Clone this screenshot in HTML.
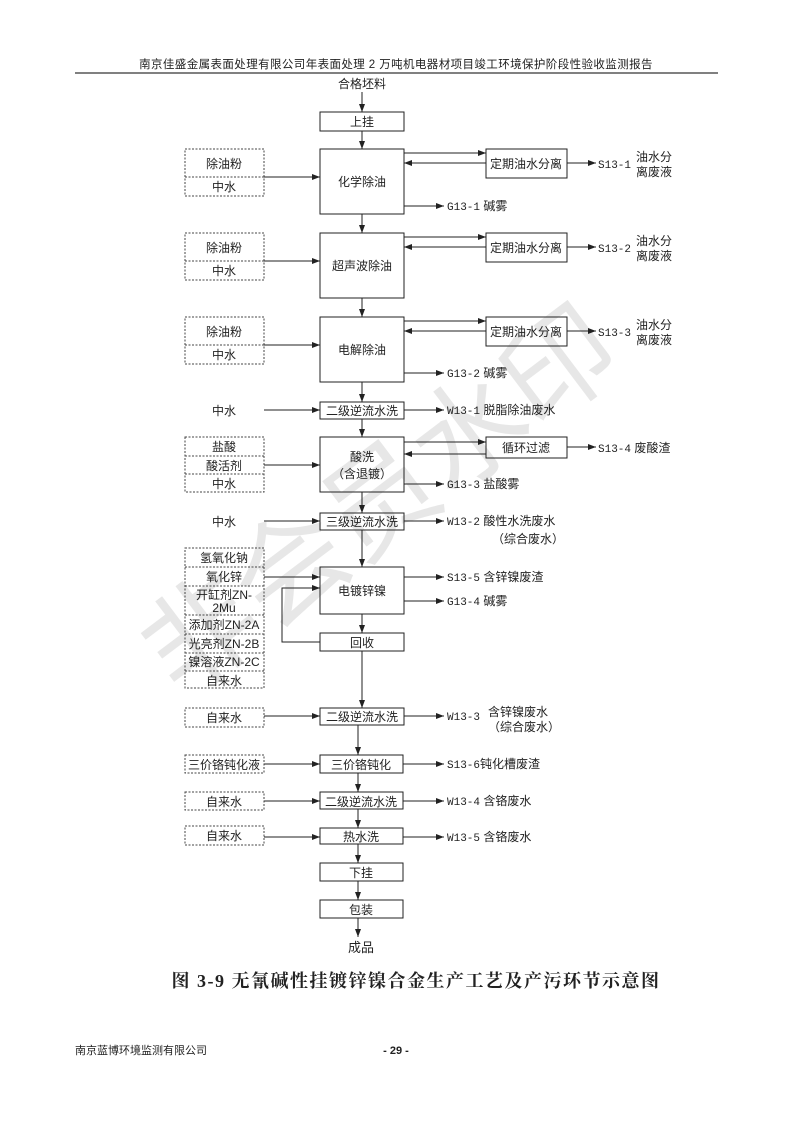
<!DOCTYPE html>
<html><head><meta charset="utf-8"><style>
html,body{margin:0;padding:0;background:#fff}
svg{display:block}
text{font-family:"Liberation Sans","Noto Sans CJK SC",sans-serif;fill:#222}
.m{font-family:"Liberation Mono","Noto Sans CJK SC",monospace;font-size:11px}
.c{font-size:12px}
</style></head><body>
<svg width="793" height="1122" viewBox="0 0 793 1122" xmlns="http://www.w3.org/2000/svg">
<defs><marker id="a" markerWidth="8" markerHeight="6" refX="8" refY="3" orient="auto" markerUnits="userSpaceOnUse"><path d="M0,0L8,3L0,6z" fill="#222"/></marker></defs>
<text x="396" y="68" text-anchor="middle" font-size="11.5" letter-spacing="0.4">南京佳盛金属表面处理有限公司年表面处理 2 万吨机电器材项目竣工环境保护阶段性验收监测报告</text>
<line x1="75" y1="73" x2="718" y2="73" stroke="#000" stroke-width="1"/>
<g opacity="0.09" transform="rotate(-37 180 700)"><text x="180" y="700" font-size="112" style="fill:#000">非会员水印</text></g>
<g stroke="#222" stroke-width="1" fill="none">
<rect x="320" y="112" width="84" height="19"/>
<rect x="320" y="149" width="84" height="65"/>
<rect x="320" y="233" width="84" height="65"/>
<rect x="320" y="317" width="84" height="65"/>
<rect x="320" y="402" width="84" height="17"/>
<rect x="320" y="437" width="84" height="55"/>
<rect x="320" y="513" width="84" height="17"/>
<rect x="320" y="567" width="84" height="47"/>
<rect x="320" y="633" width="84" height="18"/>
<rect x="320" y="708" width="84" height="17"/>
<rect x="320" y="755" width="83" height="18"/>
<rect x="320" y="792" width="83" height="17"/>
<rect x="320" y="828" width="83" height="16"/>
<rect x="320" y="863" width="83" height="18"/>
<rect x="320" y="900" width="83" height="18"/>
<rect x="486" y="149" width="81" height="29"/>
<rect x="486" y="233" width="81" height="29"/>
<rect x="486" y="317" width="81" height="29"/>
<rect x="486" y="437" width="81" height="21"/>
</g>
<g stroke="#444" stroke-width="1" fill="none" stroke-dasharray="2,1.5">
<rect x="185" y="149" width="79" height="47"/><line x1="185" y1="177" x2="264" y2="177"/>
<rect x="185" y="233" width="79" height="47"/><line x1="185" y1="261" x2="264" y2="261"/>
<rect x="185" y="317" width="79" height="47"/><line x1="185" y1="345" x2="264" y2="345"/>
<rect x="185" y="437" width="79" height="55"/><line x1="185" y1="456" x2="264" y2="456"/><line x1="185" y1="474" x2="264" y2="474"/>
<rect x="185" y="548" width="79" height="140"/>
<line x1="185" y1="567" x2="264" y2="567"/><line x1="185" y1="586" x2="264" y2="586"/><line x1="185" y1="615" x2="264" y2="615"/><line x1="185" y1="634" x2="264" y2="634"/><line x1="185" y1="653" x2="264" y2="653"/><line x1="185" y1="671" x2="264" y2="671"/>
<rect x="185" y="708" width="79" height="19"/>
<rect x="185" y="755" width="79" height="18"/>
<rect x="185" y="792" width="79" height="18"/>
<rect x="185" y="826" width="79" height="19"/>
</g>
<g stroke="#222" stroke-width="1" fill="none" marker-end="url(#a)">
<line x1="362" y1="92" x2="362" y2="112"/>
<line x1="362" y1="131" x2="362" y2="149"/>
<line x1="362" y1="214" x2="362" y2="233"/>
<line x1="362" y1="298" x2="362" y2="317"/>
<line x1="362" y1="382" x2="362" y2="402"/>
<line x1="362" y1="419" x2="362" y2="437"/>
<line x1="362" y1="492" x2="362" y2="513"/>
<line x1="362" y1="530" x2="362" y2="567"/>
<line x1="362" y1="614" x2="362" y2="633"/>
<line x1="362" y1="651" x2="362" y2="708"/>
<line x1="358" y1="725" x2="358" y2="755"/>
<line x1="358" y1="773" x2="358" y2="792"/>
<line x1="358" y1="809" x2="358" y2="828"/>
<line x1="358" y1="844" x2="358" y2="863"/>
<line x1="358" y1="881" x2="358" y2="900"/>
<line x1="358" y1="918" x2="358" y2="937"/>
<line x1="264" y1="177" x2="320" y2="177"/>
<line x1="264" y1="261" x2="320" y2="261"/>
<line x1="264" y1="345" x2="320" y2="345"/>
<line x1="264" y1="410" x2="320" y2="410"/>
<line x1="264" y1="465" x2="320" y2="465"/>
<line x1="264" y1="521" x2="320" y2="521"/>
<line x1="264" y1="577" x2="320" y2="577"/>
<line x1="264" y1="716" x2="320" y2="716"/>
<line x1="264" y1="764" x2="320" y2="764"/>
<line x1="264" y1="801" x2="320" y2="801"/>
<line x1="264" y1="837" x2="320" y2="837"/>
<polyline points="320,642 282,642 282,588 320,588"/>
<line x1="404" y1="153" x2="486" y2="153"/><line x1="486" y1="163" x2="404" y2="163"/><line x1="567" y1="163" x2="596" y2="163"/>
<line x1="404" y1="237" x2="486" y2="237"/><line x1="486" y1="247" x2="404" y2="247"/><line x1="567" y1="247" x2="596" y2="247"/>
<line x1="404" y1="321" x2="486" y2="321"/><line x1="486" y1="331" x2="404" y2="331"/><line x1="567" y1="331" x2="596" y2="331"/>
<line x1="404" y1="442" x2="486" y2="442"/><line x1="486" y1="454" x2="404" y2="454"/><line x1="567" y1="447" x2="596" y2="447"/>
<line x1="404" y1="206" x2="444" y2="206"/>
<line x1="404" y1="373" x2="444" y2="373"/>
<line x1="404" y1="410" x2="444" y2="410"/>
<line x1="404" y1="484" x2="444" y2="484"/>
<line x1="404" y1="521" x2="444" y2="521"/>
<line x1="404" y1="577" x2="444" y2="577"/>
<line x1="404" y1="601" x2="444" y2="601"/>
<line x1="404" y1="716" x2="444" y2="716"/>
<line x1="403" y1="764" x2="444" y2="764"/>
<line x1="403" y1="801" x2="444" y2="801"/>
<line x1="403" y1="837" x2="444" y2="837"/>
</g>
<g class="c" text-anchor="middle">
<text x="362" y="88">合格坯料</text>
<text x="362" y="126">上挂</text>
<text x="362" y="186">化学除油</text>
<text x="362" y="270">超声波除油</text>
<text x="362" y="354">电解除油</text>
<text x="362" y="415">二级逆流水洗</text>
<text x="362" y="461">酸洗</text>
<text x="362" y="478">（含退镀）</text>
<text x="362" y="526">三级逆流水洗</text>
<text x="362" y="595">电镀锌镍</text>
<text x="362" y="647">回收</text>
<text x="362" y="721">二级逆流水洗</text>
<text x="361" y="769">三价铬钝化</text>
<text x="361" y="806">二级逆流水洗</text>
<text x="361" y="841">热水洗</text>
<text x="361" y="877">下挂</text>
<text x="361" y="914">包装</text>
<text x="361" y="952" font-size="13">成品</text>
<text x="526" y="168">定期油水分离</text>
<text x="526" y="252">定期油水分离</text>
<text x="526" y="336">定期油水分离</text>
<text x="526" y="452">循环过滤</text>
<text x="224" y="168">除油粉</text><text x="224" y="191">中水</text>
<text x="224" y="252">除油粉</text><text x="224" y="275">中水</text>
<text x="224" y="336">除油粉</text><text x="224" y="359">中水</text>
<text x="224" y="415">中水</text>
<text x="224" y="451">盐酸</text><text x="224" y="470">酸活剂</text><text x="224" y="488">中水</text>
<text x="224" y="526">中水</text>
<text x="224" y="562">氢氧化钠</text>
<text x="224" y="581">氧化锌</text>
<text x="224" y="599">开缸剂ZN-</text>
<text x="224" y="612">2Mu</text>
<text x="224" y="629">添加剂ZN-2A</text>
<text x="224" y="648">光亮剂ZN-2B</text>
<text x="224" y="666">镍溶液ZN-2C</text>
<text x="224" y="685">自来水</text>
<text x="224" y="722">自来水</text>
<text x="224" y="769">三价铬钝化液</text>
<text x="224" y="806">自来水</text>
<text x="224" y="840">自来水</text>
</g>
<g class="c">
<text x="598" y="168" class="m">S13-1</text><text x="636" y="161">油水分</text><text x="636" y="176">离废液</text>
<text x="598" y="252" class="m">S13-2</text><text x="636" y="245">油水分</text><text x="636" y="260">离废液</text>
<text x="598" y="336" class="m">S13-3</text><text x="636" y="329">油水分</text><text x="636" y="344">离废液</text>
<text x="598" y="452"><tspan class="m">S13-4</tspan> 废酸渣</text>
<text x="447" y="210"><tspan class="m">G13-1</tspan> 碱雾</text>
<text x="447" y="377"><tspan class="m">G13-2</tspan> 碱雾</text>
<text x="447" y="414"><tspan class="m">W13-1</tspan> 脱脂除油废水</text>
<text x="447" y="488"><tspan class="m">G13-3</tspan> 盐酸雾</text>
<text x="447" y="525"><tspan class="m">W13-2</tspan> 酸性水洗废水</text>
<text x="492" y="543">（综合废水）</text>
<text x="447" y="581"><tspan class="m">S13-5</tspan> 含锌镍废渣</text>
<text x="447" y="605"><tspan class="m">G13-4</tspan> 碱雾</text>
<text x="447" y="720" class="m">W13-3</text><text x="488" y="716">含锌镍废水</text><text x="488" y="731">（综合废水）</text>
<text x="447" y="768"><tspan class="m">S13-6</tspan>钝化槽废渣</text>
<text x="447" y="805"><tspan class="m">W13-4</tspan> 含铬废水</text>
<text x="447" y="841"><tspan class="m">W13-5</tspan> 含铬废水</text>
</g>
<text x="416" y="987" text-anchor="middle" font-size="18" font-weight="bold" letter-spacing="1.5" style="font-family:'Liberation Serif','Noto Serif CJK SC',serif">图 3-9 无氰碱性挂镀锌镍合金生产工艺及产污环节示意图</text>
<text x="75" y="1054" font-size="11">南京蓝博环境监测有限公司</text>
<text x="396" y="1054" font-size="11" text-anchor="middle" font-weight="bold">- 29 -</text>
</svg>
</body></html>
